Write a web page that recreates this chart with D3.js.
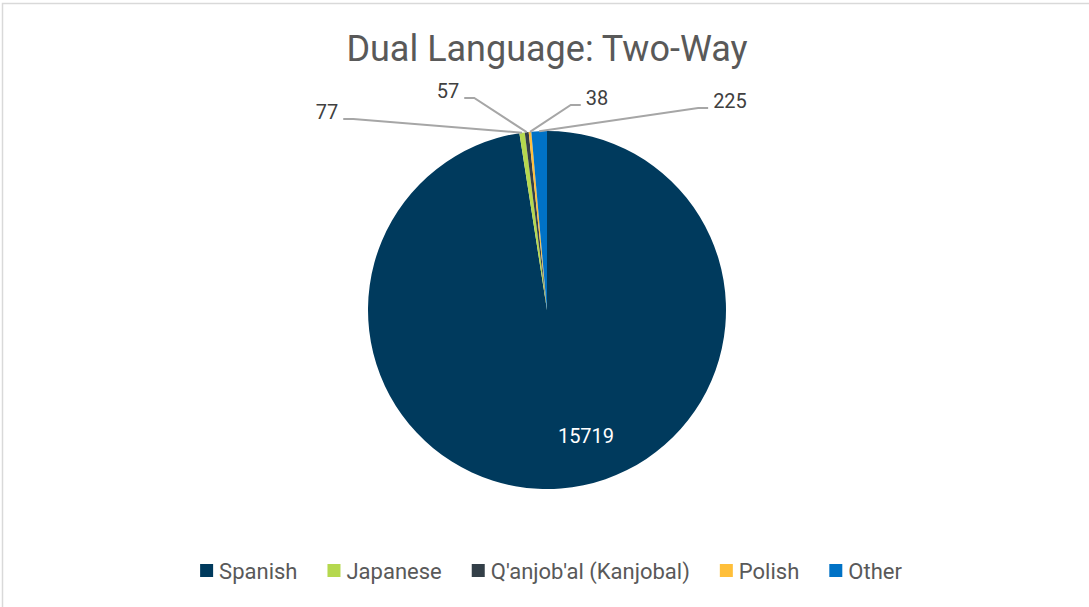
<!DOCTYPE html>
<html>
<head>
<meta charset="utf-8">
<script src="https://cdn.jsdelivr.net/npm/d3@7"></script>
<style>
  body { margin: 0; background: #fff; }
  svg text { font-family: Roboto, "Noto Sans", sans-serif; }
</style>
</head>
<body>
<svg id="chart" width="1089" height="607"></svg>
<script>
// data
var languages = ["Spanish", "Japanese", "Q'anjob'al (Kanjobal)", "Polish", "Other"];
var students = [15719, 77, 57, 38, 225];
var colours = ["#003a5d", "#b5d84e", "#333f48", "#ffbf3a", "#0072c6"];

// label placement (offsets from pie centre, Excel-style best fit)
var labelPos = [[39, 126], [-220, -198], [-99, -219], [50, -212], [183, -209]];

var svg = d3.select("#chart"),
    cx = 547, cy = 310, radius = 179;

svg.append("rect")
   .attr("x", 2.5).attr("y", 3.5)
   .attr("width", 1200).attr("height", 800)
   .attr("fill", "none")
   .attr("stroke", "#d9d9d9")
   .attr("stroke-width", 1.5);

svg.append("text")
   .attr("x", cx).attr("y", 61)
   .attr("text-anchor", "middle")
   .attr("font-size", "36px")
   .attr("fill", "#595959")
   .text("Dual Language: Two-Way");

var data = languages.map(function(d, i) { return { name: d, value: students[i], colour: colours[i], idx: i }; });

var pie = d3.pie().sort(null).value(function(d) { return d.value; });
var arc = d3.arc().innerRadius(0).outerRadius(radius);
var arcs = pie(data);

var g = svg.append("g").attr("transform", "translate(" + cx + "," + cy + ")");

g.selectAll("path.slice")
 .data(arcs)
 .enter().append("path")
 .attr("class", "slice")
 .attr("d", arc)
 .attr("fill", function(d) { return d.data.colour; });

// leader lines for the small slices
arcs.forEach(function(a, i) {
    var p = labelPos[i];
    if (i === 0) {
        g.append("text")
         .attr("x", p[0]).attr("y", p[1])
         .attr("text-anchor", "middle")
         .attr("dy", "0.35em")
         .attr("font-size", "20px")
         .attr("fill", "#ffffff")
         .text(a.data.value);
        return;
    }
    var mid = (a.startAngle + a.endAngle) / 2;
    var ex = radius * Math.sin(mid), ey = -radius * Math.cos(mid);
    var label = g.append("text")
         .attr("x", p[0]).attr("y", p[1])
         .attr("text-anchor", "middle")
         .attr("dy", "0.35em")
         .attr("font-size", "20px")
         .attr("fill", "#404040")
         .text(a.data.value);
    var w = label.node().getComputedTextLength();
    var left = p[0] < ex;
    var sx = left ? p[0] + w / 2 + 5 : p[0] - w / 2 - 5;
    var sy = p[1] + 7;
    var kx = left ? sx + 10 : sx - 10;
    g.append("polyline")
     .attr("points", [[sx, sy], [kx, sy], [ex, ey]].map(function(q) { return q.join(","); }).join(" "))
     .attr("fill", "none")
     .attr("stroke", "#a6a6a6")
     .attr("stroke-width", 2);
});

// legend
var legend = svg.append("g");
var x = 0;
data.forEach(function(d) {
    var item = legend.append("g").attr("transform", "translate(" + x + ",0)");
    item.append("rect").attr("x", 0).attr("y", -7).attr("width", 13).attr("height", 13).attr("fill", d.colour);
    var t = item.append("text").attr("x", 19).attr("y", 0).attr("dy", "0.35em")
        .attr("font-size", "22px").attr("fill", "#595959").text(d.name);
    x += 19 + t.node().getComputedTextLength() + 30;
});
x -= 30;
legend.attr("transform", "translate(" + (551 - x / 2) + ",571)");
</script>
</body>
</html>
